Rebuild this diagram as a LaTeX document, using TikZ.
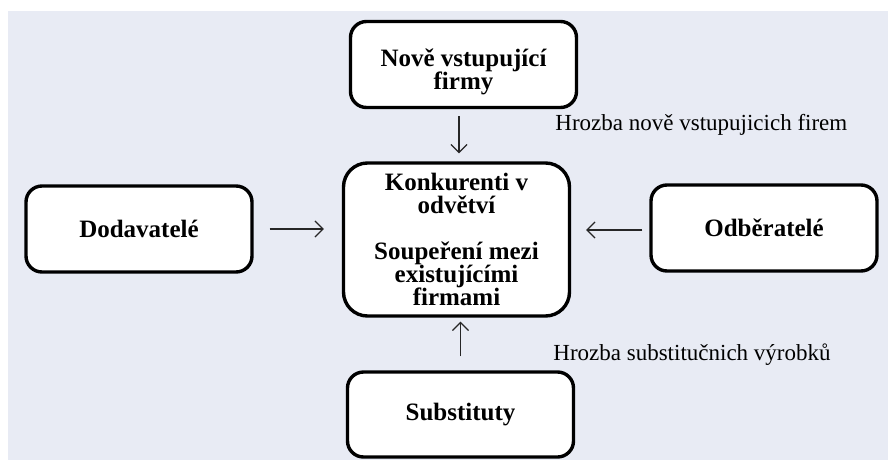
\documentclass[tikz,border=0pt]{standalone}
\usepackage{fontspec}
\setmainfont{Liberation Serif}
\usepackage{tikz}
\usetikzlibrary{arrows, arrows.meta, positioning, calc, backgrounds}

\definecolor{pozadi}{RGB}{232,235,244}

\tikzset{
  box/.style={draw, line width=1.7pt, fill=white, rounded corners=8pt,
    minimum width=113pt, minimum height=43pt, align=center,
    font=\fontsize{12.5}{11.5}\selectfont\bfseries},
  sipka/.style={-{Straight Barb[length=4pt, width=8pt]}, line width=0.6pt, black!85},
  popis/.style={anchor=west, inner sep=0pt, font=\fontsize{11.5}{13}\selectfont}
}

\begin{document}
\begin{tikzpicture}[x=0.5pt, y=-0.5pt]

\useasboundingbox (0,0) rectangle (888,461);
\fill[pozadi] (8,11) rectangle (888,460);

% Boxy
\node[box] (nove) at (463.5,64.5) {\rule{0pt}{16pt}Nově vstupující\\firmy};
\node[box, rounded corners=12pt, minimum height=76.5pt] (konk) at (456.5,239.5)
  {Konkurenti v\\odvětví\\[11.5pt]Soupeření mezi\\existujícími\\firmami};
\node[box] (dodav) at (139,229) {Dodavatelé};
\node[box] (odber) at (764,228) {Odběratelé};
\node[box, minimum height=42.5pt] (subst) at (460.5,414.5) {Substituty};

% Sipky
\draw[sipka, shorten <=3.5pt, shorten >=4pt] ([xshift=-2.25pt]nove.south) -- ([xshift=-2.25pt]nove.south |- konk.north);
\draw[sipka, shorten <=8pt, shorten >=9pt] (dodav.east) -- (dodav.east -| konk.west);
\draw[sipka, shorten <=3.5pt, shorten >=7.5pt] ([yshift=-1pt]odber.west) -- ([yshift=-1pt]odber.west -| konk.east);
\draw[sipka, shorten <=7pt, shorten >=2pt] (subst.north) -- (subst.north |- konk.south);

% Popisky
\node[popis] (hrozba1) at (555,125) {Hrozba nově vstupujicich firem};
\node[popis] (hrozba2) at (553,355) {Hrozba substitučnich výrobků};

\end{tikzpicture}
\end{document}
